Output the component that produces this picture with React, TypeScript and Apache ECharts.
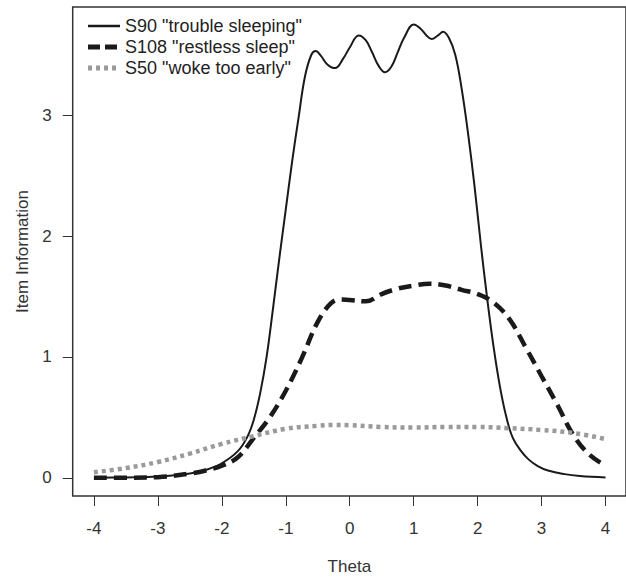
import React, { useEffect, useRef } from "react";
import * as echarts from "echarts";

// Theta grid and item information values
const thetaS90 = [-4, -3.5, -3, -2.5, -2.25, -2, -1.75, -1.6, -1.5, -1.4, -1.3, -1.2, -1.1, -1.0, -0.9, -0.8, -0.7, -0.6, -0.53, -0.45, -0.35, -0.23, -0.1, 0, 0.14, 0.25, 0.35, 0.45, 0.55, 0.65, 0.75, 0.85, 1.0, 1.1, 1.2, 1.28, 1.38, 1.46, 1.55, 1.65, 1.75, 1.85, 1.95, 2.05, 2.15, 2.25, 2.35, 2.45, 2.55, 2.68, 2.8, 2.94, 3.1, 3.36, 3.6, 4];
const s90 = [0.0, 0.003, 0.01, 0.035, 0.065, 0.12, 0.22, 0.34, 0.48, 0.7, 1.0, 1.4, 1.82, 2.22, 2.62, 2.98, 3.32, 3.5, 3.53, 3.49, 3.42, 3.39, 3.47, 3.56, 3.66, 3.62, 3.52, 3.41, 3.355, 3.4, 3.52, 3.64, 3.75, 3.72, 3.66, 3.63, 3.66, 3.69, 3.64, 3.5, 3.22, 2.85, 2.42, 1.93, 1.48, 1.08, 0.75, 0.5, 0.33, 0.22, 0.15, 0.097, 0.06, 0.03, 0.015, 0.003];

const thetaGrid = [-4, -3.5, -3, -2.5, -2.25, -2, -1.75, -1.5, -1.25, -1.0, -0.75, -0.5, -0.3, -0.15, 0, 0.25, 0.5, 0.75, 1.0, 1.25, 1.5, 1.75, 2.0, 2.25, 2.5, 2.75, 3.0, 3.25, 3.5, 3.75, 4.0];
const s108 = [0.0, 0.0, 0.005, 0.035, 0.06, 0.1, 0.17, 0.33, 0.5, 0.72, 0.99, 1.29, 1.44, 1.475, 1.47, 1.46, 1.52, 1.565, 1.59, 1.605, 1.59, 1.555, 1.52, 1.45, 1.31, 1.08, 0.84, 0.6, 0.35, 0.19, 0.1];

const thetaS50 = [-4, -3.5, -3, -2.5, -2, -1.5, -1, -0.5, -0.25, 0, 0.5, 1, 1.5, 2, 2.5, 3, 3.5, 4];
const s50 = [0.045, 0.08, 0.13, 0.2, 0.28, 0.345, 0.405, 0.43, 0.437, 0.435, 0.42, 0.415, 0.42, 0.42, 0.41, 0.395, 0.37, 0.32];

const xTicks = [-4, -3, -2, -1, 0, 1, 2, 3, 4];
const yTicks = [0, 1, 2, 3];

const legendLabels = ['S90 "trouble sleeping"', 'S108 "restless sleep"', 'S50 "woke too early"'];

const FONT = "Liberation Sans, Arial, Helvetica, sans-serif";
const TXT = "#333";

function pairs(xs: number[], ys: number[]) {
  return xs.map((x, i) => [x, ys[i]]);
}

export default function App() {
  const ref = useRef<HTMLDivElement>(null);
  useEffect(() => {
    document.body.style.margin = "0";
    const chart = echarts.init(ref.current!, undefined, { renderer: "svg" });
    const legendStyles = [
      { stroke: "#1a1a1a", lineWidth: 2.5, lineDash: null as any },
      { stroke: "#1a1a1a", lineWidth: 5, lineDash: [12, 5] },
      { stroke: "#9a9a9a", lineWidth: 5, lineDash: [4, 4] },
    ];
    const legendGraphics: any[] = [];
    legendLabels.forEach((lab, i) => {
      const y = 26 + i * 21;
      legendGraphics.push({
        type: "line",
        shape: { x1: 88, y1: y, x2: 120, y2: y },
        style: { ...legendStyles[i], lineCap: "butt" },
      });
      legendGraphics.push({
        type: "text",
        x: 125,
        y: y,
        style: { text: lab, fill: "#222", font: `18px ${FONT}`, textVerticalAlign: "middle", textAlign: "left" },
      });
    });
    chart.setOption({
      animation: false,
      grid: { left: 72.7, top: 7, right: -1.3, bottom: 78, show: true, borderColor: "#333", borderWidth: 1.5, backgroundColor: "transparent" },
      xAxis: {
        type: "value",
        min: -4.332,
        max: 4.32,
        name: "Theta",
        nameLocation: "middle",
        nameGap: 62,
        nameTextStyle: { color: TXT, fontSize: 17, fontFamily: FONT },
        axisLine: { show: false, onZero: false },
        splitLine: { show: false },
        axisTick: { show: true, length: 10, lineStyle: { color: "#333", width: 1 }, customValues: xTicks },
        axisLabel: { color: TXT, fontSize: 17, fontFamily: FONT, margin: 24, customValues: xTicks, formatter: (v: number) => String(v) },
      },
      yAxis: {
        type: "value",
        min: -0.151,
        max: 3.895,
        name: "Item Information",
        nameLocation: "middle",
        nameGap: 35,
        nameTextStyle: { color: TXT, fontSize: 17, fontFamily: FONT },
        axisLine: { show: false, onZero: false },
        splitLine: { show: false },
        axisTick: { show: true, length: 10, lineStyle: { color: "#333", width: 1 }, customValues: yTicks },
        axisLabel: { color: TXT, fontSize: 17, fontFamily: FONT, margin: 21, customValues: yTicks, formatter: (v: number) => String(v) },
      },
      series: [
        {
          type: "line",
          data: pairs(thetaS90, s90),
          showSymbol: false,
          smooth: 0.4,
          lineStyle: { color: "#1a1a1a", width: 2 },
        },
        {
          type: "line",
          data: pairs(thetaGrid, s108),
          showSymbol: false,
          smooth: 0.4,
          lineStyle: { color: "#1a1a1a", width: 4.5, type: [13, 7], cap: "butt" },
        },
        {
          type: "line",
          data: pairs(thetaS50, s50),
          showSymbol: false,
          smooth: 0.4,
          lineStyle: { color: "#9a9a9a", width: 4.5, type: [4, 4], cap: "butt" },
        },
      ],
      graphic: legendGraphics,
    });
    return () => chart.dispose();
  }, []);
  return <div ref={ref} style={{ width: 626, height: 580 }} />;
}
